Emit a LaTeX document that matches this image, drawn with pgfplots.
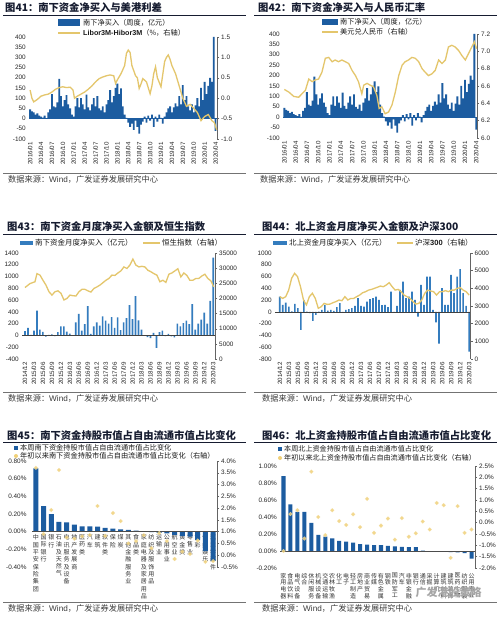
\documentclass[border=0pt]{standalone}
\usepackage{pgfplots}
\pgfplotsset{compat=1.18}
\usepackage{pgfplotstable}
\usepackage{fontspec}
\setmainfont{Liberation Sans}
\newfontfamily\cjk{Noto Sans CJK SC}
\definecolor{wblue}{RGB}{28,92,160}
\definecolor{mblue}{RGB}{52,124,190}
\definecolor{gold}{RGB}{228,198,108}
\definecolor{dotc}{RGB}{240,208,120}
\definecolor{ttl}{RGB}{22,28,48}
\definecolor{axg}{RGB}{100,100,100}
\definecolor{srcg}{RGB}{60,60,60}

\pgfplotsset{
  base/.style={scale only axis, anchor=north west,
    scaled y ticks=false, scaled x ticks=false,
    /pgf/number format/assume math mode=true,
    /pgf/number format/set thousands separator={},
    tick label style={font=\fontsize{6.4}{7}\selectfont, text=black!85},
    major tick length=2pt, tick align=outside,
    axis line style={axg, line width=0.5pt},
    tick style={axg, line width=0.4pt}},
  lefta/.style={base, axis y line*=left, axis x line*=bottom,
    y axis line style={draw=none}, ytick style={draw=none},
    x axis line style={draw=none}, xtick style={draw=none},
    yticklabel style={inner sep=1pt}},
  righta/.style={base, axis y line*=right, axis x line=none,
    yticklabel style={inner sep=1pt, xshift=1pt}},
  rotx/.style={xticklabel style={rotate=90, anchor=east, inner sep=1pt, font=\fontsize{6.2}{7}\selectfont}},
}

\pgfplotstableread{
m v
0 45
0.5 35
1 30
1.5 20
2 25
2.5 15
3 10
3.5 5
4 15
4.5 2
5 30
5.5 45
6 120
6.5 60
7 55
7.5 80
8 195
8.5 110
9 60
9.5 90
10 115
10.5 70
11 50
11.5 20
12 10
12.5 60
13 100
13.5 55
14 100
14.5 70
15 45
15.5 118
16 55
16.5 40
17 70
17.5 100
18 60
18.5 110
19 50
19.5 40
20 60
20.5 30
21 70
21.5 90
22 140
22.5 80
23 110
23.5 150
24 172
24.5 120
25 148
25.5 60
26 20
26.5 3
27 -20
27.5 -40
28 -25
28.5 -55
29 -10
29.5 -40
30 -74
30.5 -30
31 -15
31.5 10
32 -20
32.5 15
33 -10
33.5 20
34 -40
34.5 10
35 -15
35.5 20
36 3
36.5 -25
37 10
37.5 30
38 50
38.5 60
39 30
39.5 55
40 75
40.5 60
41 110
41.5 70
42 164
42.5 90
43 110
43.5 60
44 40
44.5 70
45 30
45.5 65
46 100
46.5 60
47 150
47.5 90
48 180
48.5 120
49 160
49.5 200
50 180
50.5 400
51 -60
}\weekly

\pgfplotstableread{
i v
0 72
1 128
2 8
3 83
4 422
5 100
6 61
7 -22
8 11
9 17
10 -11
11 56
12 156
13 156
14 67
15 33
16 6
17 222
18 367
19 83
20 194
21 500
22 28
23 156
24 222
25 167
26 322
27 250
28 200
29 311
30 128
31 305
32 89
33 222
34 294
35 517
36 278
37 667
38 256
39 100
40 -5
41 -28
42 -44
43 44
44 -211
45 56
46 83
47 -11
48 28
49 -17
50 -33
51 200
52 156
53 211
54 250
55 194
56 533
57 100
58 200
59 267
60 389
61 200
62 589
63 1322
}\southm

\pgfplotstableread{
i v
0 260
1 119
2 158
3 90
4 10
5 136
6 62
7 -306
8 204
9 5
10 -23
11 -153
12 -51
13 5
14 34
15 119
16 23
17 34
18 17
19 79
20 147
21 -5
22 34
23 45
24 62
25 102
26 232
27 102
28 90
29 175
30 215
31 232
32 260
33 204
34 113
35 119
36 79
37 345
38 -10
39 102
40 374
41 515
42 232
43 260
44 345
45 204
46 -79
47 458
48 119
49 600
50 600
51 34
52 -180
53 -540
54 402
55 119
56 119
57 628
58 317
59 600
60 725
61 317
62 102
63 -674
}\northm

\begin{document}
\begin{tikzpicture}
\fill[white] (0pt,0pt) rectangle (500pt,-617pt);
\useasboundingbox (0pt,0pt) rectangle (500pt,-617pt);

% ---------------- titles, rules, sources
\tikzset{ttlf/.style={anchor=base west, inner sep=0pt, text=ttl, font=\cjk\bfseries\fontsize{10.3}{12}\selectfont},
         srcf/.style={anchor=base west, inner sep=0pt, text=srcg, font=\cjk\fontsize{8.2}{9}\selectfont},
         legf/.style={anchor=west, inner sep=0pt, text=black!90, font=\cjk\fontsize{#1}{#1}\selectfont}}
\node[ttlf] at (5pt,-11.5pt) {图41：南下资金净买入与美港利差};
\node[ttlf] at (258pt,-11.5pt) {图42：南下资金净买入与人民币汇率};
\node[ttlf] at (7pt,-231pt) {图43：南下资金月度净买入金额及恒生指数};
\node[ttlf] at (262pt,-231pt) {图44：北上资金月度净买入金额及沪深300};
\node[ttlf] at (7pt,-439pt) {图45：南下资金持股市值占自由流通市值占比变化};
\node[ttlf] at (262pt,-439pt) {图46：北上资金持股市值占自由流通市值占比变化};
\foreach \y in {15,234,442} {
  \draw[ttl, line width=0.9pt] (3pt,-\y pt) -- (246pt,-\y pt);
  \draw[ttl, line width=0.9pt] (254pt,-\y pt) -- (497pt,-\y pt);
}
\foreach \y in {173,392,602} {
  \draw[black!55, line width=0.5pt] (3pt,-\y pt) -- (246pt,-\y pt);
  \draw[black!55, line width=0.5pt] (254pt,-\y pt) -- (497pt,-\y pt);
}
\node[srcf] at (8pt,-183pt) {数据来源：{\normalfont Wind}，广发证券发展研究中心};
\node[srcf] at (260pt,-183pt) {数据来源：{\normalfont Wind}，广发证券发展研究中心};
\node[srcf] at (8pt,-401pt) {数据来源：{\normalfont Wind}，广发证券发展研究中心};
\node[srcf] at (262pt,-401pt) {数据来源：{\normalfont Wind}，广发证券发展研究中心};
\node[srcf] at (8pt,-611pt) {数据来源：{\normalfont Wind}，广发证券发展研究中心};
\node[srcf] at (262pt,-611pt) {数据来源：{\normalfont Wind}，广发证券发展研究中心};

% ---------------- legends
\fill[wblue] (58pt,-19pt) rectangle (80pt,-26pt);
\node[legf=7.2] at (83pt,-22.5pt) {南下净买入（周度，亿元）};
\draw[gold, line width=1.6pt] (58pt,-33pt) -- (80pt,-33pt);
\node[legf=7.2] at (83pt,-33pt) {{\normalfont\bfseries Libor3M-Hibor3M}（\%，右轴）};

\fill[wblue] (322pt,-19pt) rectangle (338pt,-25.5pt);
\node[legf=7.2] at (340pt,-22pt) {南下净买入（周度，亿元）};
\draw[gold, line width=1.6pt] (322pt,-32pt) -- (338pt,-32pt);
\node[legf=7.2] at (340pt,-32pt) {美元兑人民币（右轴）};

\fill[mblue] (20pt,-241pt) rectangle (33pt,-245pt);
\node[legf=7.5] at (35pt,-243pt) {南下资金月度净买入（亿元）};
\draw[gold, line width=1.6pt] (143pt,-243pt) -- (160pt,-243pt);
\node[legf=7.5] at (162pt,-243pt) {恒生指数（右轴）};

\fill[mblue] (273pt,-241pt) rectangle (287pt,-245pt);
\node[legf=7.5] at (289pt,-243pt) {北上资金月度净买入（亿元）};
\draw[gold, line width=1.6pt] (397pt,-243pt) -- (413pt,-243pt);
\node[legf=7.5] at (415pt,-243pt) {沪深{\normalfont\bfseries 300}（右轴）};

\fill[wblue] (14pt,-446pt) rectangle (18pt,-450pt);
\node[legf=7.2] at (20pt,-448pt) {本周南下资金持股市值占自由流通市值占比变化};
\fill[dotc] (16pt,-456pt) circle (2pt);
\node[legf=7.2] at (20pt,-456pt) {年初以来南下资金持股市值占自由流通市值占比变化（右轴）};

\fill[wblue] (278pt,-447pt) rectangle (282pt,-451pt);
\node[legf=7.1] at (284pt,-449pt) {本周北上资金持股市值占自由流通市值占比变化};
\fill[dotc] (280pt,-458pt) circle (2pt);
\node[legf=7.1] at (284pt,-458pt) {年初以来北上资金持股市值占自由流通市值占比变化（右轴）};

% ================= Panel 41
\begin{axis}[lefta, rotx, at={(29pt,-37pt)}, width=188pt, height=102pt,
  xmin=-0.3, xmax=51.4, ymin=-100, ymax=400, ytick={-100,-50,...,400},
  xtick={0,3,...,51},
  xticklabels={2016/01,2016/04,2016/07,2016/10,2017/01,2017/04,2017/07,2017/10,2018/01,2018/04,2018/07,2018/10,2019/01,2019/04,2019/07,2019/10,2020/01,2020/04}]
\addplot[ybar, bar width=0.5, bar shift=0, fill=wblue, draw=none] table[x=m,y=v]{\weekly};
\addplot[wblue, line width=0.7pt] coordinates {(-0.3,0) (51.4,0)};
\end{axis}
\begin{axis}[righta, at={(29pt,-37pt)}, width=188pt, height=102pt,
  xmin=-0.3, xmax=51.4, ymin=-1, ymax=1.5, ytick={-1,-0.5,0,0.5,1,1.5},
  yticklabel style={/pgf/number format/.cd, fixed, fixed zerofill, precision=1}]
\addplot[gold, line width=1.3pt] coordinates {
(0,0.20) (0.5,0.0) (1,-0.09) (2,-0.03) (3,0.05) (4,0.08) (5,0.10) (6,0.15) (7,0.22) (8,0.26)
(9,0.28) (10,0.26) (11,0.27) (11.8,0.20) (12.2,0.0) (13,0.05) (14,0.10) (15,0.15) (16,0.22)
(17,0.30) (18,0.40) (19,0.48) (20,0.52) (21,0.55) (22,0.57) (23,0.55) (23.5,0.36) (24,0.45)
(25,0.60) (26,0.80) (26.5,1.10) (27,1.18) (27.5,1.12) (28,0.80) (29,0.55) (29.5,0.50) (30,0.24)
(30.5,0.35) (31,0.48) (32,0.40) (33,0.11) (33.5,0.30) (34,0.60) (34.5,0.77) (35,0.50) (36,0.28)
(37,0.90) (37.5,1.00) (38,1.06) (38.5,0.95) (39,0.80) (40,0.60) (41,0.30) (42,0.00) (43,-0.20)
(44,-0.15) (45,-0.25) (46,-0.35) (47,-0.55) (48,-0.45) (49,-0.40) (50,-0.55) (50.7,-0.60) (51.3,-0.78)};
\end{axis}

% ================= Panel 42
\begin{axis}[lefta, rotx, at={(283pt,-34pt)}, width=194pt, height=104pt,
  xmin=-0.35, xmax=51.2, ymin=-100, ymax=400, ytick={-100,-50,...,400},
  xtick={0,3,...,51},
  xticklabels={2016/01,2016/04,2016/07,2016/10,2017/01,2017/04,2017/07,2017/10,2018/01,2018/04,2018/07,2018/10,2019/01,2019/04,2019/07,2019/10,2020/01,2020/04}]
\addplot[ybar, bar width=0.5, bar shift=0, fill=wblue, draw=none] table[x=m,y=v]{\weekly};
\addplot[wblue, line width=0.7pt] coordinates {(-0.35,0) (51.2,0)};
\end{axis}
\begin{axis}[righta, at={(283pt,-34pt)}, width=194pt, height=104pt,
  xmin=-0.35, xmax=51.2, ymin=6.0, ymax=7.2, ytick={6.0,6.2,6.4,6.6,6.8,7.0,7.2},
  yticklabel style={/pgf/number format/.cd, fixed, fixed zerofill, precision=1}]
\addplot[gold, line width=1.3pt] coordinates {
(0,6.56) (1.2,6.53) (2.5,6.48) (3.8,6.47) (4.7,6.51) (5.6,6.55) (6.5,6.68) (7.4,6.65) (8.2,6.67)
(9.1,6.68) (10.0,6.76) (10.9,6.92) (11.8,6.93) (12.7,6.88) (13.5,6.90) (14.4,6.88) (15.3,6.90)
(16.2,6.88) (17.1,6.86) (18.0,6.78) (18.9,6.72) (19.7,6.65) (20.6,6.51) (21.1,6.61) (22.0,6.63)
(22.8,6.61) (23.7,6.59) (24.6,6.49) (25.2,6.34) (25.9,6.36) (26.8,6.28) (27.7,6.30) (28.6,6.38)
(29.5,6.53) (30.4,6.72) (31.3,6.84) (32.1,6.88) (33.0,6.90) (33.9,6.93) (34.8,6.92) (35.7,6.88)
(36.6,6.80) (37.4,6.76) (38.3,6.72) (39.2,6.74) (40.1,6.78) (41.0,6.90) (41.9,6.86) (42.8,6.90)
(43.6,7.05) (44.5,7.07) (45.4,7.05) (46.3,7.01) (47.2,6.95) (48.1,6.90) (48.9,6.97) (49.8,7.05)
(50.5,7.11) (51.1,7.03)};
\end{axis}

% ================= Panel 43
\begin{axis}[lefta, rotx, at={(22pt,-253pt)}, width=193pt, height=106pt,
  xmin=-1, xmax=63.6, ymin=-400, ymax=1400, ytick={-400,-200,...,1400},
  xtick={0,3,...,63},
  xticklabels={2014/12,2015/03,2015/06,2015/09,2015/12,2016/03,2016/06,2016/09,2016/12,2017/03,2017/06,2017/09,2017/12,2018/03,2018/06,2018/09,2018/12,2019/03,2019/06,2019/09,2019/12,2020/03}]
\addplot[ybar, bar width=0.55, bar shift=0, fill=mblue, draw=none] table[x=i,y=v]{\southm};
\addplot[black!75, line width=0.6pt] coordinates {(-1,0) (63.6,0)};
\end{axis}
\begin{axis}[righta, at={(22pt,-253pt)}, width=193pt, height=106pt,
  xmin=-1, xmax=63.6, ymin=0, ymax=35000, ytick={0,5000,...,35000}]
\addplot[gold, line width=1.3pt] coordinates {
(0,23600) (1.67,24900) (3.34,25500) (4.01,28200) (5.02,27700) (6.02,26000) (7.02,24400) (8.03,22200)
(9.03,21100) (10.03,22200) (11.04,22500) (12.04,21700) (13.04,19500) (14.05,20000) (15.05,21100)
(16.05,20900) (17.06,20800) (18.06,22200) (19.06,23000) (20.07,23000) (21.07,22500) (22.07,22100)
(23.08,23300) (24.08,23800) (25.08,24400) (26.09,25200) (27.09,26000) (28.09,26600) (29.10,27700)
(30.10,27600) (31.10,28400) (32.11,29100) (33.11,30400) (34.11,29900) (35.12,31000) (36.12,33000)
(37.12,31000) (38.13,30400) (39.13,30600) (40.13,30400) (41.14,29300) (42.14,28800) (43.14,28200)
(44.15,27700) (45.15,25500) (46.15,26000) (47.16,25300) (48.16,28000) (49.16,28400) (50.17,29100)
(51.17,29800) (52.17,27100) (53.18,28400) (54.18,27600) (55.18,26000) (56.19,26000) (57.19,26600)
(58.19,26600) (59.20,27400) (60.20,28000) (61.20,26600) (62.21,25800) (63.21,23800)};
\end{axis}

% ================= Panel 44
\begin{axis}[lefta, rotx, at={(275pt,-253pt)}, width=195.5pt, height=106pt,
  xmin=-1.6, xmax=63.47, ymin=-800, ymax=1000, ytick={-800,-600,...,1000},
  xtick={0,3,...,63},
  xticklabels={2014/12,2015/03,2015/06,2015/09,2015/12,2016/03,2016/06,2016/09,2016/12,2017/03,2017/06,2017/09,2017/12,2018/03,2018/06,2018/09,2018/12,2019/03,2019/06,2019/09,2019/12,2020/03}]
\addplot[ybar, bar width=0.55, bar shift=0, fill=mblue, draw=none] table[x=i,y=v]{\northm};
\addplot[black!75, line width=0.6pt] coordinates {(-1.6,0) (63.47,0)};
\end{axis}
\begin{axis}[righta, at={(275pt,-253pt)}, width=195.5pt, height=106pt,
  xmin=-1.6, xmax=63.47, ymin=0, ymax=6000, ytick={0,1000,...,6000}]
\addplot[gold, line width=1.3pt] coordinates {
(0,3530) (0.98,3430) (1.97,3530) (2.95,3900) (3.94,4570) (4.92,4850) (5.91,4660) (6.89,4090)
(7.88,3340) (8.86,3060) (9.84,3530) (10.83,3720) (11.81,3430) (12.80,2870) (13.78,2960) (14.77,3150)
(15.75,3090) (16.73,3110) (17.72,3190) (18.70,3250) (19.69,3340) (20.67,3300) (21.66,3530) (22.64,3340)
(23.63,3430) (24.61,3430) (25.59,3530) (26.58,3620) (27.56,3750) (28.55,3810) (29.53,3900) (30.52,3940)
(31.50,4000) (32.48,4060) (33.47,4130) (34.45,4090) (35.44,4190) (36.42,4320) (37.41,4090) (38.39,3900)
(39.38,3940) (40.36,3810) (41.34,3620) (42.33,3530) (43.31,3430) (44.30,3250) (45.28,3110) (46.27,3150)
(47.25,3340) (48.23,3720) (49.22,3900) (50.20,3850) (51.19,3810) (52.17,3620) (53.16,3810) (54.14,3810)
(55.13,3870) (56.11,3810) (57.09,3900) (58.08,3900) (59.06,4000) (60.05,4040) (61.03,3900) (62.02,3810)
(63.00,3620)};
\end{axis}

% ================= Panel 45
\begin{axis}[base, at={(32pt,-461pt)}, width=185pt, height=106pt,
  axis y line*=left, axis x line*=middle,
  y axis line style={draw=none}, ytick style={draw=none},
  x axis line style={draw=none}, xtick style={draw=none},
  xmin=-0.5, xmax=23.5, ymin=-0.4, ymax=0.8, ytick={-0.4,-0.2,0,0.2,0.4,0.6,0.8},
  yticklabel={\pgfmathprintnumber[fixed,fixed zerofill,precision=2]{\tick}\%},
  xtick={0,...,23},
  xticklabels={{中\\国\\平\\安\\保\\险\\集\\团},{国\\际\\银\\行},{银\\行},{石\\油\\及\\天\\然\\气},{电\\讯\\服\\务\\及\\设\\备},{地\\产\\发\\展\\商},{医\\药\\类},{汽\\车},{建\\筑},{软\\件\\类},{保\\险},{煤\\炭},{其\\他\\金\\融\\服\\务\\业},{食\\品\\类},{家\\庭\\电\\器\\及\\家\\居\\用\\品},{纺\\织\\及\\服\\饰\\用\\品},{运\\输\\业},{公\\用\\事\\业},{航\\空\\业},{黄\\金\\类},{零\\售\\业},{博\\彩},{传\\媒\\娱\\乐},{汽\\车\\零\\部\\件}},
  xticklabel style={align=center, anchor=north, inner sep=1pt, text=black!80, font=\cjk\fontsize{6}{7.3}\selectfont}]
\addplot[ybar, bar width=0.65, bar shift=0, fill=wblue, draw=none] coordinates {
(0,0.716) (1,0.29) (2,0.20) (3,0.11) (4,0.105) (5,0.08) (6,0.06) (7,0.06) (8,0.057) (9,0.042)
(10,0.035) (11,0.027) (12,0.02) (13,0.012) (14,0.004) (15,-0.005) (16,-0.015) (17,-0.02) (18,-0.035)
(19,-0.05) (20,-0.055) (21,-0.095) (22,-0.22) (23,-0.33)};
\addplot[black!70, line width=0.5pt] coordinates {(-0.5,0) (23.5,0)};
\end{axis}
\begin{axis}[righta, at={(32pt,-461pt)}, width=185pt, height=106pt,
  xmin=-0.5, xmax=23.5, ymin=-0.5, ymax=4, ytick={-0.5,0,0.5,1,1.5,2,2.5,3,3.5,4},
  yticklabel={\pgfmathprintnumber[fixed,fixed zerofill,precision=1]{\tick}\%}]
\addplot[only marks, mark=*, mark size=1.9pt, mark options={fill=dotc, draw=dotc!70!white, fill opacity=0.85, draw opacity=0.6}] coordinates {
(0,3.71) (1,0.90) (2,1.92) (3,3.62) (4,0.75) (5,0.70) (6,0.80) (7,0.86) (8,2.09) (9,0.82)
(10,1.79) (11,1.45) (12,0.50) (13,0.60) (14,0.85) (15,0.30) (16,0.94) (17,0.60) (18,-0.16)
(19,0.15) (20,0.05) (21,0.62) (22,-0.28) (23,-0.25)};
\end{axis}

% ================= Panel 46
\begin{axis}[lefta, at={(280pt,-466pt)}, width=195pt, height=102pt,
  xmin=-0.5, xmax=27.5, ymin=-0.2, ymax=1.0, ytick={-0.2,0,0.2,0.4,0.6,0.8,1.0},
  yticklabel={\pgfmathprintnumber[fixed,fixed zerofill,precision=2]{\tick}\%},
  xtick={0,...,27},
  xticklabels={{家\\用\\电\\器},{食\\品\\饮\\料},{电\\气\\设\\备},{综\\合},{休\\闲\\服\\务},{机\\械\\设\\备},{交\\通\\运\\输},{农\\林\\牧\\渔},{化\\工},{电\\子},{轻\\工\\制\\造},{房\\地\\产},{商\\业\\贸\\易},{传\\媒},{有\\色\\金\\属},{钢\\铁},{国\\防\\军\\工},{汽\\车},{非\\银\\金\\融},{银\\行},{通\\信},{采\\掘},{计\\算\\机},{建\\筑\\材\\料},{建\\筑\\装\\饰},{医\\药\\生\\物},{纺\\织\\服\\装},{公\\用\\事\\业}},
  xticklabel style={align=center, anchor=north, inner sep=1pt, yshift=-2pt, text=black!80, font=\cjk\fontsize{6}{6.6}\selectfont}]
\addplot[ybar, bar width=0.58, bar shift=0, fill=wblue, draw=none] coordinates {
(0,0.88) (1,0.55) (2,0.46) (3,0.46) (4,0.33) (5,0.19) (6,0.17) (7,0.15) (8,0.12) (9,0.11)
(10,0.10) (11,0.08) (12,0.075) (13,0.07) (14,0.07) (15,0.06) (16,0.055) (17,0.05) (18,0.045) (19,0.045)
(20,0.005) (21,-0.005) (22,-0.008) (23,-0.01) (24,-0.012) (25,-0.015) (26,-0.025) (27,-0.09)};
\addplot[black!70, line width=0.5pt] coordinates {(-0.5,0) (27.5,0)};
\end{axis}
\begin{axis}[righta, at={(280pt,-466pt)}, width=195pt, height=102pt,
  xmin=-0.5, xmax=27.5, ymin=-2, ymax=2.5, ytick={-2,-1.5,-1,-0.5,0,0.5,1,1.5,2,2.5},
  yticklabel={\pgfmathprintnumber[fixed,fixed zerofill,precision=1]{\tick}\%}]
\addplot[only marks, mark=*, mark size=1.9pt, mark options={fill=dotc, draw=dotc!70!white, fill opacity=0.85, draw opacity=0.6}] coordinates {
(0,-1.25) (1,0.38) (2,0.55) (3,-0.7) (4,2.25) (5,0.25) (6,-0.55) (7,0.55) (8,0.07) (9,-0.1)
(10,0.37) (11,-0.2) (12,1.05) (13,-0.45) (14,-0.13) (15,0.18) (16,-0.75) (17,0.2) (18,-0.62)
(19,-0.47) (20,0.05) (21,-0.3) (22,0.87) (23,0.77) (24,-1.55) (25,0.73) (26,-0.45) (27,-0.3)};
\end{axis}

\node[anchor=west, text=black!35, font=\cjk\bfseries\fontsize{11}{12}\selectfont] at (412pt,-592pt) {广发港股策略};
\end{tikzpicture}
\end{document}
